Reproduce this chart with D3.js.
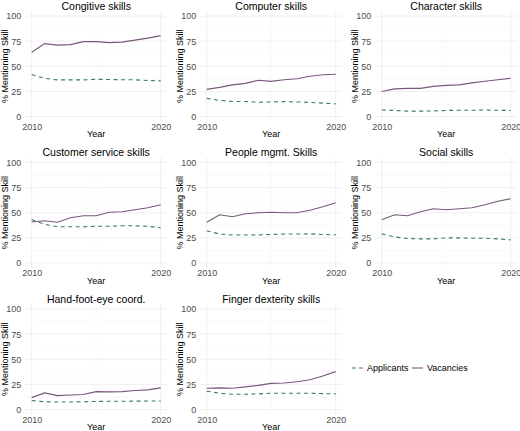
<!DOCTYPE html>
<html>
<head>
<meta charset="utf-8">
<script src="https://cdn.jsdelivr.net/npm/d3@7"></script>
<style>
  body { margin: 0; background: #fff; }
  svg { font-family: "Liberation Sans", Arial, sans-serif; }
</style>
</head>
<body>
<svg></svg>
<script>
// data
const years = [2010, 2011, 2012, 2013, 2014, 2015, 2016, 2017, 2018, 2019, 2020];

const skills = ["Congitive skills", "Computer skills", "Character skills",
                "Customer service skills", "People mgmt. Skills", "Social skills",
                "Hand-foot-eye coord.", "Finger dexterity skills"];

const applicants = [
    [41.7, 38, 36.4, 36.4, 36.4, 37, 36.8, 36.6, 36.5, 35.8, 35.4],
    [18, 16, 15, 15, 14.2, 14.5, 14.8, 14.5, 14, 13.3, 12.6],
    [6.5, 6, 5.3, 5.3, 5.6, 6, 6.2, 6.2, 6.5, 6.2, 6],
    [43, 38.5, 36, 36, 36, 36.5, 36.5, 37, 37, 36.5, 35],
    [32, 28.8, 27.8, 27.8, 28, 28.4, 28.8, 28.8, 29, 28.4, 28],
    [29, 26, 24.4, 24, 24, 25, 25, 24.7, 24.7, 24, 23],
    [9, 7.7, 7.4, 7.4, 7.7, 8, 8.2, 8.2, 8.3, 8.4, 8.4],
    [18.2, 16.2, 15.2, 15.2, 15.5, 16.2, 16.2, 16.2, 16.2, 15.8, 15.5]
];

const vacancies = [
    [63.9, 72.5, 71, 71.5, 74.5, 74.5, 73.5, 74, 76, 78, 80.5],
    [27, 29, 31.5, 33, 36, 35, 36.5, 37.5, 40, 41.5, 42],
    [24.8, 27.5, 28, 28, 30, 31, 31.5, 33.5, 35, 36.5, 38],
    [40.8, 42, 40.5, 45, 47, 47, 50.5, 51, 53, 55, 58],
    [40.5, 48, 46, 49, 50, 50.5, 50, 50, 52.5, 56, 60],
    [43, 48, 47, 51, 54, 53, 54, 55, 58, 61.5, 64],
    [11.8, 16.5, 13.8, 14.5, 15, 17.8, 17.5, 17.8, 18.9, 19.5, 21.5],
    [21.2, 21.5, 21.2, 22.5, 24, 26, 26.3, 27.6, 29.6, 33.3, 37.7]
];

const yTicks = [0, 25, 50, 75, 100];
const yMinor = [12.5, 37.5, 62.5, 87.5];
const xTicks = [2010, 2020];
const xMinor = [2015];

const seriesNames = ["Applicants", "Vacancies"];

drawChart();

function drawChart(){
    const width = 520;
    const height = 431;

    const colApplicants = "#3a7d63";
    const colVacancies = "#77587b";

    const svg = d3.select("svg")
                    .attr("width", width)
                    .attr("height", height);

    // panel placement (2010 position of column, 100/0 position of row)
    const colLeft = [31.7, 206.7, 381.7];
    const panelW = 129;
    const rowTop = [16, 162.5, 309];
    const panelH = 100.5;

    const line = (xScale, yScale) => d3.line()
                    .x((d, i) => xScale(years[i]))
                    .y(d => yScale(d));

    skills.forEach((skill, i) => {
        const col = i % 3;
        const row = Math.floor(i / 3);

        const xScale = d3.scaleLinear()
                            .domain([2010, 2020])
                            .range([colLeft[col], colLeft[col] + panelW]);

        const yScale = d3.scaleLinear()
                            .domain([0, 100])
                            .range([rowTop[row] + panelH, rowTop[row]]);

        // ggplot style 5% expansion around the data range
        const x0 = xScale(2009.5), x1 = xScale(2020.5);
        const y0 = yScale(-5), y1 = yScale(105);

        const g = svg.append("g");

        // grid lines
        g.selectAll(".ymin")
            .data(yMinor)
            .enter()
            .append("line")
            .attr("x1", x0).attr("x2", x1)
            .attr("y1", d => yScale(d)).attr("y2", d => yScale(d))
            .attr("stroke", "#f3f3f3")
            .attr("stroke-width", 0.5);

        g.selectAll(".xmin")
            .data(xMinor)
            .enter()
            .append("line")
            .attr("x1", d => xScale(d)).attr("x2", d => xScale(d))
            .attr("y1", y0).attr("y2", y1)
            .attr("stroke", "#f3f3f3")
            .attr("stroke-width", 0.5);

        g.selectAll(".ymaj")
            .data(yTicks)
            .enter()
            .append("line")
            .attr("x1", x0).attr("x2", x1)
            .attr("y1", d => yScale(d)).attr("y2", d => yScale(d))
            .attr("stroke", "#ebebeb")
            .attr("stroke-width", 0.8);

        g.selectAll(".xmaj")
            .data(xTicks)
            .enter()
            .append("line")
            .attr("x1", d => xScale(d)).attr("x2", d => xScale(d))
            .attr("y1", y0).attr("y2", y1)
            .attr("stroke", "#ebebeb")
            .attr("stroke-width", 0.8);

        // axes
        const yAxis = d3.axisLeft(yScale)
                        .tickValues(yTicks)
                        .tickSize(0)
                        .tickPadding(4);

        const xAxis = d3.axisBottom(xScale)
                        .tickValues(xTicks)
                        .tickFormat(d3.format("d"))
                        .tickSize(0)
                        .tickPadding(2);

        const ya = g.append("g")
            .attr("transform", `translate(${x0}, 0)`)
            .call(yAxis);

        const xa = g.append("g")
            .attr("transform", `translate(0, ${y0})`)
            .call(xAxis);

        [ya, xa].forEach(a => {
            a.select(".domain").remove();
            a.selectAll("text")
                .attr("fill", "#4d4d4d")
                .style("font-size", "9px")
                .style("font-family", "Liberation Sans, Arial, sans-serif");
        });

        // series lines
        g.append("path")
            .datum(applicants[i])
            .attr("d", line(xScale, yScale))
            .attr("fill", "none")
            .attr("stroke", colApplicants)
            .attr("stroke-width", 1.1)
            .attr("stroke-dasharray", "4,3.5");

        g.append("path")
            .datum(vacancies[i])
            .attr("d", line(xScale, yScale))
            .attr("fill", "none")
            .attr("stroke", colVacancies)
            .attr("stroke-width", 1.1);

        // panel title
        g.append("text")
            .attr("x", (x0 + x1) / 2)
            .attr("y", yScale(100) - 6.5)
            .attr("text-anchor", "middle")
            .style("font-size", "10.5px")
            .text(skill);

        // x axis title
        g.append("text")
            .attr("x", (x0 + x1) / 2)
            .attr("y", yScale(0) + 20.5)
            .attr("text-anchor", "middle")
            .style("font-size", "9px")
            .text("Year");

        // y axis title
        g.append("text")
            .attr("transform", "rotate(-90)")
            .attr("x", -yScale(50))
            .attr("y", x0 - 17)
            .attr("text-anchor", "middle")
            .style("font-size", "9px")
            .text("% Mentioning Skill");
    });

    // legend
    const legend = svg.append("g")
                        .attr("transform", "translate(352, 368)");

    const keyX = d3.scaleOrdinal()
                    .domain(seriesNames)
                    .range([0, 60]);

    legend.selectAll("line")
        .data(seriesNames)
        .enter()
        .append("line")
        .attr("x1", d => keyX(d))
        .attr("x2", d => keyX(d) + 11)
        .attr("y1", 0).attr("y2", 0)
        .attr("stroke", d => d === "Applicants" ? colApplicants : colVacancies)
        .attr("stroke-width", 1.1)
        .attr("stroke-dasharray", d => d === "Applicants" ? "4,3" : null);

    legend.selectAll("text")
        .data(seriesNames)
        .enter()
        .append("text")
        .attr("x", d => keyX(d) + 15)
        .attr("y", 0)
        .attr("dy", "0.35em")
        .style("font-size", "9px")
        .text(d => d);
}
</script>
</body>
</html>
